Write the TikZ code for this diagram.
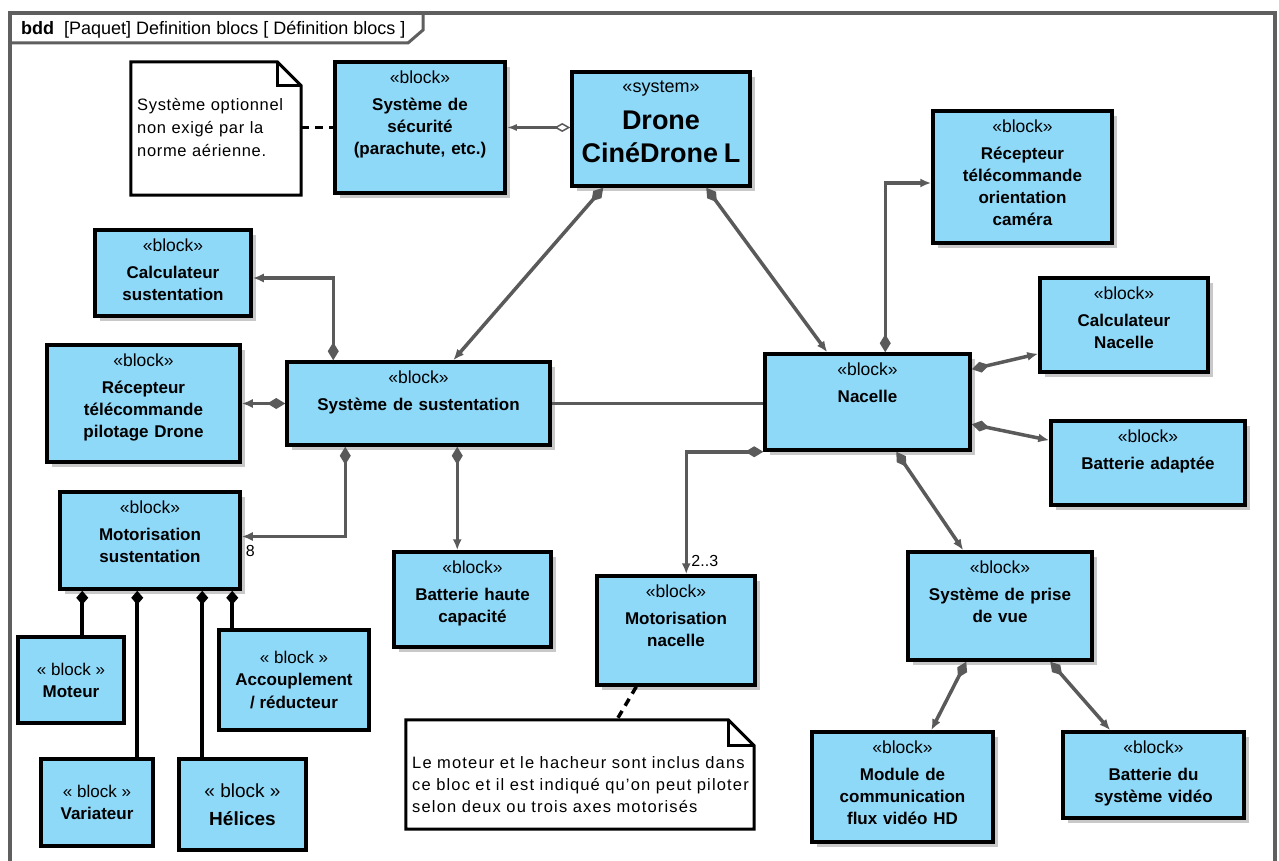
\documentclass[tikz,border=0pt]{standalone}
\usepackage{fontspec}
\setmainfont{Liberation Sans}
\usetikzlibrary{arrows.meta,calc,fit}

\definecolor{blockblue}{RGB}{142,216,248}
\definecolor{conngray}{RGB}{90,90,90}
\definecolor{framegray}{RGB}{95,95,95}
\definecolor{shadowgray}{RGB}{200,200,200}

% fonts used inside the blocks
\newcommand{\stereofont}{\fontsize{17.5}{20}\selectfont}
\newcommand{\namefont}{\fontsize{17}{22}\selectfont\bfseries}
\newcommand{\blk}[2][block]{«#1»\par\vspace{5.5pt}{\namefont #2\par}}

\tikzset{
  blockbox/.style={draw=black, line width=3.5pt, fill=blockblue, inner sep=0pt},
  partbox/.style={draw=black, line width=4.5pt, fill=blockblue, inner sep=0pt},
  blocktext/.style={anchor=north, inner sep=0pt, text width=260pt, align=center, font=\stereofont},
  parttext/.style={inner sep=0pt, align=center},
  notebox/.style={draw=black, line width=3pt, fill=white, line join=miter},
  notetext/.style={anchor=north west, inner sep=0pt, align=left},
  conn/.style={draw=conngray, line width=3.5pt},
  comp/.style={conn, {Diamond[length=18pt,width=11pt]}-{Latex[length=11pt,width=9pt]}},
  partconn/.style={draw=black, line width=4pt, {Diamond[length=14pt,width=12pt]}-},
  notelink/.style={draw=black, line width=3.5pt, dash pattern=on 8pt off 6pt},
  mult/.style={inner sep=0pt, font=\fontsize{16}{18}\selectfont},
}

% block with shadow: name, x1, y1, x2, y2, contents
\newcommand{\sysblock}[6]{%
  \fill[shadowgray] ({#2+5},{#3+5}) rectangle ({#4+5},{#5+5});
  \node[blockbox, fit={(#2,#3)(#4,#5)}] (#1) {};
  \node[blocktext] (#1-txt) at ($(#1.north)+(0,10)$) {#6};
}
% part block without shadow: name, x1, y1, x2, y2, font size, baseline skip, name text
\newcommand{\partblock}[8]{%
  \node[partbox, fit={(#2,#3)(#4,#5)}] (#1) {};
  \node[parttext, font=\fontsize{#6}{#7}\selectfont] (#1-txt) at (#1.center)
    {« block »\\\bfseries #8};
}

\begin{document}
\begin{tikzpicture}[x=1pt, y=-1pt]
\useasboundingbox (0,0) rectangle (1279,861);
\fill[white] (0,0) rectangle (1279,861);

% diagram frame and its tab
\draw[framegray, line width=4pt] (10,880) -- (10,13) -- (1275,13) -- (1275,880);
\draw[framegray, line width=3pt] (10,43) -- (408,43) -- (423,30) -- (423,13);
\node[anchor=base west, inner sep=0pt, font=\fontsize{18}{20}\selectfont] (tab) at (21,35)
  {\textbf{bdd}\ \ [Paquet] Definition blocs [ Définition blocs ]};

% blocks
\sysblock{secu}{335}{62}{505}{193}{\blk{Système de\\ sécurité\\ (parachute, etc.)}}
\sysblock{drone}{572}{72}{750}{186}{{\fontsize{18}{20}\selectfont «system»\par}\vspace{4pt}{\fontsize{27}{33}\selectfont\bfseries Drone\\ CinéDrone L\par}}
\sysblock{recc}{933}{111}{1112}{243}{\blk{Récepteur\\ télécommande\\ orientation\\ caméra}}
\sysblock{calcs}{95}{230}{251}{316}{\blk{Calculateur\\ sustentation}}
\sysblock{recp}{47}{345}{240}{462}{\blk{Récepteur\\ télécommande\\ pilotage Drone}}
\sysblock{sus}{287}{362}{550}{445}{\blk{Système de sustentation}}
\sysblock{nac}{765}{354}{970}{450}{\blk{Nacelle}}
\sysblock{calcn}{1040}{278}{1208}{372}{\blk{Calculateur\\ Nacelle}}
\sysblock{batta}{1051}{421}{1245}{505}{\blk{Batterie adaptée}}
\sysblock{mots}{60}{492}{240}{589}{\blk{Motorisation\\ sustentation}}
\sysblock{batt}{394}{552}{551}{647}{\blk{Batterie haute\\ capacité}}
\sysblock{motn}{597}{576}{755}{685}{\blk{Motorisation\\ nacelle}}
\sysblock{pdv}{908}{552}{1092}{660}{\blk{Système de prise\\ de vue}}
\sysblock{modc}{812}{732}{993}{842}{\blk{Module de\\ communication\\ flux vidéo HD}}
\sysblock{batv}{1063}{732}{1244}{818}{\blk{Batterie du\\ système vidéo}}

% parts of the lift motorisation
\partblock{moteur}{18}{637}{124}{723}{17}{22}{Moteur}
\partblock{acc}{219}{630}{369}{730}{17}{22.5}{Accouplement\\\bfseries / réducteur}
\partblock{var}{41}{759}{153}{846}{17}{22}{Variateur}
\partblock{hel}{179}{759}{306}{850}{19}{28}{Hélices}

% notes with folded corner
\node[fit={(131,62)(301,195)}, inner sep=0pt] (note1) {};
\draw[notebox] (note1.south west) -- (note1.north west) -- ($(note1.north east)+(-24,0)$)
  -- ($(note1.north east)+(0,24)$) -- (note1.south east) -- cycle;
\draw[notebox, fill=none] ($(note1.north east)+(-24,0)$) -- ($(note1.north east)+(-24,24)$)
  -- ($(note1.north east)+(0,24)$);
\node[notetext, text width=165pt, font=\fontsize{16.5}{23}\selectfont\addfontfeature{LetterSpace=4}]
  (note1-txt) at (137,98) {Système optionnel\\ non exigé par la\\ norme aérienne.};

\node[fit={(406,720)(754,829)}, inner sep=0pt] (note2) {};
\draw[notebox] (note2.south west) -- (note2.north west) -- ($(note2.north east)+(-26,0)$)
  -- ($(note2.north east)+(0,26)$) -- (note2.south east) -- cycle;
\draw[notebox, fill=none] ($(note2.north east)+(-26,0)$) -- ($(note2.north east)+(-26,26)$)
  -- ($(note2.north east)+(0,26)$);
\node[notetext, text width=345pt, font=\fontsize{16.5}{22}\selectfont\addfontfeature{LetterSpace=7}]
  (note2-txt) at (412,756)
  {Le moteur et le hacheur sont inclus dans\\ ce bloc et il est indiqué qu'on peut piloter\\ selon deux ou trois axes motorisés};

% note links
\draw[notelink] (note1.east |- secu.west) -- (secu.west);
\coordinate (motnfoot) at ($(motn.south west)+(41,0)$);
\coordinate (note2head) at ($(note2.north west)+(211,0)$);
\draw[notelink] (motnfoot) -- (note2head);

% drone and safety system
\draw[conn, {Latex[length=10pt,width=7pt]}-{Diamond[open,length=16pt,width=9pt,line width=1.5pt,fill=white]}]
  (secu.east) -- (secu.east -| drone.west);

% drone composition
\draw[comp] ($(drone.south west)+(33,0)$) -- ($(sus.north west)+(168,0)$);
\draw[comp] ($(drone.south west)+(136,0)$) -- ($(nac.north west)+(64,0)$);

% lift system
\draw[comp] ($(sus.north west)+(48,0)$) |- ($(calcs.east)+(0,5)$);
\draw[comp] (sus.west) -- (sus.west -| recp.east);
\draw[conn] (sus.east) -- (sus.east -| nac.west);
\draw[comp] ($(sus.south west)+(60,0)$) |- ($(mots.east)+(0,-4)$) coordinate (motsend);
\node[mult, anchor=north west] (m8) at ($(motsend)+(4,9)$) {8};
\draw[comp] ($(sus.south west)+(172,0)$) -- ($(batt.north west)+(65,0)$);

% parts of the lift motorisation
\coordinate (pmot) at ($(mots.south west)+(24,0)$);
\coordinate (pvar) at ($(mots.south west)+(79,0)$);
\coordinate (phel) at ($(mots.south west)+(144,0)$);
\coordinate (pacc) at ($(mots.south west)+(174,0)$);
\draw[partconn] (pmot) -- (pmot |- moteur.north);
\draw[partconn] (pvar) -- (pvar |- var.north);
\draw[partconn] (phel) -- (phel |- hel.north);
\draw[partconn] (pacc) -- (pacc |- acc.north);

% gimbal
\draw[comp] ($(nac.north west)+(122,0)$) |- ($(recc.west)+(0,6)$);
\draw[comp] ($(nac.north east)+(0,17)$) -- ($(calcn.south west)+(0,-20)$);
\draw[comp] ($(nac.north east)+(0,72)$) -- ($(batta.north west)+(0,21)$);
\draw[comp] (nac.south west) -| ($(motn.north west)+(91,0)$) coordinate (motnend);
\node[mult, anchor=base west] (m23) at ($(motnend)+(5,-8)$) {2..3};
\draw[comp] ($(nac.south west)+(133,0)$) -- ($(pdv.north west)+(57,0)$);

% camera system
\draw[comp] ($(pdv.south west)+(60,0)$) -- ($(modc.north west)+(121,0)$);
\draw[comp] ($(pdv.south west)+(144,0)$) -- ($(batv.north west)+(49,0)$);
\end{tikzpicture}
\end{document}
